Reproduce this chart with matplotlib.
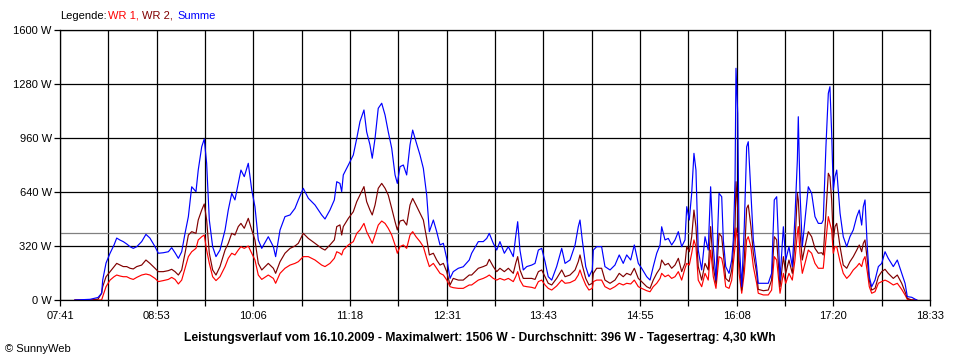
import numpy as np
import matplotlib
matplotlib.use('Agg')
import matplotlib.pyplot as plt

# time in minutes since midnight, power in W
t_min = [472.2, 483.5, 489.5, 492.2, 493.0, 495.5, 498.5, 501.5, 503.5, 506.0,
         508.4, 511.0, 513.5, 515.9, 518.5, 522.2, 525.4, 528.4, 532.2, 534.7,
         538.4, 542.2, 544.7, 547.2, 549.7, 552.2, 554.7, 557.2, 559.7, 562.9,
         564.6, 567.2, 569.1, 570.9, 572.9, 575.4, 577.9, 580.9, 584.7, 587.1,
         589.7, 592.1, 594.6, 596.6, 599.1, 602.1, 604.7, 607.1, 609.6, 612.2,
         617.1, 620.9, 622.6, 625.9, 629.6, 633.4, 637.1, 639.6, 643.3, 647.1,
         652.1, 657.1, 659.6, 663.3, 666.6, 668.4, 670.8, 672.1, 673.3, 677.1,
         680.8, 683.4, 685.8, 688.8, 690.8, 693.3, 695.0, 697.1, 699.5, 702.1,
         704.6, 707.0, 709.6, 712.1, 713.8, 715.8, 718.3, 720.8, 723.3, 725.3,
         727.8, 730.8, 733.3, 735.8, 737.8, 740.8, 743.3, 745.8, 748.3, 750.8,
         753.3, 755.7, 759.5, 763.2, 767.7, 769.5, 774.5, 778.2, 780.8, 782.7,
         785.7, 788.3, 790.7, 794.0, 797.0, 800.7, 802.5, 804.0, 805.7, 808.2,
         810.8, 814.5, 817.0, 819.5, 822.0, 824.5, 826.9, 829.5, 833.2, 837.0,
         839.5, 843.2, 847.0, 849.4, 850.7, 852.4, 855.0, 857.4, 859.9, 860.7,
         863.2, 866.9, 869.4, 873.2, 876.9, 880.1, 883.1, 885.7, 888.7, 891.4,
         894.4, 896.9, 900.7, 903.2, 905.6, 908.2, 910.7, 911.9, 914.4, 916.9,
         919.4, 921.9, 924.4, 926.9, 929.4, 930.7, 932.6, 934.4, 936.1, 937.6,
         939.3, 941.9, 944.4, 946.8, 948.6, 950.6, 952.6, 954.9, 956.9, 958.1,
         959.9, 962.4, 964.4, 965.6, 966.9, 967.6, 968.9, 969.9, 971.9, 973.8,
         975.6, 976.8, 978.8, 980.6, 983.1, 984.3, 988.1, 991.8, 994.3, 996.3,
         998.1, 1000.6, 1003.1, 1004.9, 1007.3, 1009.8, 1011.8, 1013.6, 1014.3, 1015.6,
         1017.3, 1019.3, 1021.8, 1024.3, 1026.8, 1029.3, 1031.8, 1033.0, 1035.0, 1036.8,
         1038.0, 1039.3, 1040.5, 1041.8, 1043.1, 1045.6, 1048.0, 1050.6, 1053.0, 1055.5,
         1058.1, 1060.0, 1061.8, 1063.0, 1064.3, 1066.0, 1067.5, 1069.3, 1071.8, 1074.3,
         1076.8, 1079.3, 1081.7, 1085.5, 1088.5, 1091.8, 1094.3, 1096.0, 1099.3, 1103.0]

summe = [0, 4, 15, 40, 118, 219, 277, 326, 367, 355,
         346, 332, 316, 306, 316, 346, 389, 367, 316, 277,
         280, 286, 310, 280, 247, 286, 395, 494, 671, 642,
         770, 908, 954, 810, 474, 316, 257, 296, 415, 533,
         632, 593, 691, 770, 731, 810, 652, 553, 356, 306,
         375, 316, 257, 415, 494, 504, 543, 593, 662, 603,
         563, 504, 480, 533, 593, 701, 691, 642, 741, 800,
         859, 958, 1057, 1126, 997, 919, 840, 958, 1136, 1166,
         1096, 997, 899, 741, 691, 790, 800, 741, 919, 1007,
         938, 859, 780, 622, 405, 474, 405, 326, 336, 247,
         128, 168, 188, 197, 237, 277, 346, 346, 365, 395,
         336, 296, 346, 277, 316, 257, 375, 464, 296, 178,
         198, 207, 217, 296, 306, 227, 138, 118, 198, 306,
         217, 237, 326, 434, 474, 356, 198, 138, 178, 296,
         316, 316, 198, 178, 207, 267, 217, 267, 237, 326,
         217, 188, 138, 118, 198, 277, 326, 434, 356, 365,
         326, 356, 405, 316, 356, 553, 474, 632, 869, 770,
         296, 178, 375, 296, 671, 316, 118, 632, 612, 356,
         198, 158, 237, 356, 711, 1373, 1106, 356, 79, 434,
         908, 938, 632, 356, 198, 99, 99, 99, 158, 593,
         612, 118, 434, 237, 316, 198, 494, 830, 1086, 632,
         316, 474, 671, 632, 494, 454, 454, 474, 908, 1225,
         1264, 988, 652, 731, 770, 514, 375, 316, 375, 415,
         494, 533, 444, 553, 593, 316, 138, 79, 118, 198,
         217, 286, 247, 198, 237, 158, 99, 20, 16, 0]

wr2 = [0, 0, 5, 40, 79, 138, 168, 198, 217, 207,
       198, 198, 188, 184, 198, 207, 237, 217, 188, 168,
       168, 174, 182, 168, 148, 178, 277, 385, 405, 395,
       474, 533, 569, 474, 277, 178, 148, 198, 296, 336,
       395, 385, 435, 454, 425, 484, 415, 356, 217, 178,
       217, 188, 158, 227, 277, 306, 320, 336, 395, 365,
       336, 306, 296, 326, 356, 435, 445, 385, 435, 484,
       523, 583, 622, 672, 583, 533, 504, 563, 662, 691,
       662, 622, 543, 464, 415, 468, 474, 444, 563, 602,
       563, 514, 474, 365, 267, 277, 237, 207, 217, 168,
       89, 128, 118, 118, 148, 148, 188, 198, 207, 241,
       198, 168, 188, 168, 188, 158, 217, 257, 178, 128,
       128, 128, 122, 168, 178, 138, 99, 89, 128, 178,
       138, 148, 178, 227, 267, 207, 128, 89, 99, 158,
       188, 188, 118, 99, 118, 158, 138, 158, 148, 188,
       128, 109, 79, 69, 118, 158, 188, 237, 207, 217,
       188, 207, 247, 168, 217, 316, 286, 375, 533, 435,
       198, 118, 217, 178, 435, 198, 99, 395, 375, 277,
       128, 109, 178, 296, 435, 701, 533, 237, 59, 237,
       543, 563, 435, 277, 158, 63, 55, 59, 118, 375,
       356, 79, 257, 158, 237, 158, 336, 632, 593, 395,
       237, 316, 405, 375, 306, 277, 280, 267, 514, 751,
       731, 593, 356, 435, 454, 316, 207, 188, 227, 257,
       296, 326, 286, 336, 356, 237, 118, 59, 69, 138,
       168, 182, 158, 128, 148, 99, 49, 10, 0, 0]

wr1 = [0, 0, 0, 0, 20, 79, 118, 138, 148, 142,
       138, 138, 128, 122, 134, 148, 154, 148, 128, 109,
       115, 122, 134, 122, 95, 118, 188, 257, 286, 306,
       356, 375, 385, 296, 217, 138, 115, 138, 198, 247,
       277, 267, 296, 316, 306, 320, 277, 237, 148, 122,
       148, 128, 99, 158, 188, 207, 217, 227, 257, 257,
       237, 207, 198, 217, 247, 286, 277, 267, 296, 326,
       346, 395, 415, 454, 405, 365, 336, 385, 444, 468,
       454, 425, 385, 326, 277, 316, 326, 306, 385, 405,
       375, 346, 316, 247, 198, 217, 188, 158, 148, 119,
       79, 73, 69, 69, 89, 89, 118, 128, 138, 148,
       128, 118, 128, 118, 128, 109, 138, 168, 118, 83,
       79, 75, 69, 109, 118, 89, 69, 59, 83, 118,
       99, 103, 118, 148, 178, 138, 89, 59, 69, 109,
       118, 118, 79, 63, 79, 99, 89, 99, 95, 118,
       79, 69, 55, 49, 79, 99, 128, 158, 138, 148,
       128, 138, 168, 118, 188, 217, 207, 277, 356, 316,
       118, 79, 158, 118, 296, 138, 69, 257, 247, 198,
       79, 69, 118, 217, 316, 427, 356, 158, 40, 158,
       356, 375, 316, 198, 99, 40, 30, 30, 59, 257,
       237, 40, 158, 99, 158, 118, 237, 395, 435, 277,
       158, 217, 296, 277, 217, 188, 188, 188, 356, 494,
       454, 415, 277, 316, 316, 227, 158, 128, 148, 178,
       198, 217, 198, 237, 257, 168, 79, 40, 49, 99,
       109, 118, 109, 89, 99, 63, 30, 4, 0, 0]

mittel = 396  # Durchschnitt

t_start, t_end = 461, 1113  # 07:41 .. 18:33
x_labels = ['07:41', '08:53', '10:06', '11:18', '12:31',
            '13:43', '14:55', '16:08', '17:20', '18:33']
y_ticks = [0, 320, 640, 960, 1280, 1600]

plt.rcParams['font.family'] = ['Liberation Sans', 'DejaVu Sans']

fig = plt.figure(figsize=(9.6, 3.6), dpi=100)
ax = fig.add_axes([60 / 960, 60 / 360, 870 / 960, 270 / 360])

grid_x = np.linspace(t_start, t_end, 19)
for gx in grid_x:
    ax.axvline(gx, color='black', lw=0.9, zorder=1)
for gy in y_ticks:
    ax.axhline(gy, color='black', lw=0.9, zorder=1)
ax.axhline(mittel, color='#808080', lw=0.9, zorder=1.5)

ax.plot(t_min, wr1, color='#ff0000', lw=0.85, zorder=2)
ax.plot(t_min, wr2, color='#800000', lw=0.85, zorder=3)
ax.plot(t_min, summe, color='#0000ff', lw=0.85, zorder=4)

ax.set_xlim(t_start, t_end)
ax.set_ylim(0, 1600)
ax.set_xticks(grid_x)
ax.set_xticklabels([x_labels[i // 2] if i % 2 == 0 else '' for i in range(19)])
ax.set_yticks(y_ticks)
ax.set_yticklabels(['%d W' % v for v in y_ticks])
ax.tick_params(axis='both', length=4, width=0.9, color='black', labelsize=8, pad=2)
ax.tick_params(axis='x', pad=4)
for s in ax.spines.values():
    s.set_linewidth(0.9)

fig.text(60 / 960, 1 - 16 / 360, 'Legende:', fontsize=8, va='center', color='black')
fig.text(108 / 960, 1 - 16 / 360, 'WR 1,', fontsize=8, va='center', color='#ff0000')
fig.text(142 / 960, 1 - 16 / 360, 'WR 2,', fontsize=8, va='center', color='#800000')
fig.text(177 / 960, 1 - 16 / 360, 'Summe', fontsize=8, va='center', color='#0000ff')

fig.text(480 / 960, 1 - 338 / 360,
         'Leistungsverlauf vom 16.10.2009 - Maximalwert: 1506 W - Durchschnitt: 396 W - Tagesertrag: 4,30 kWh',
         fontsize=8.75, fontweight='bold', ha='center', va='center')
fig.text(5 / 960, 1 - 349 / 360, '\u00a9 SunnyWeb', fontsize=8, va='center')

fig.savefig('out.png', dpi=100)
